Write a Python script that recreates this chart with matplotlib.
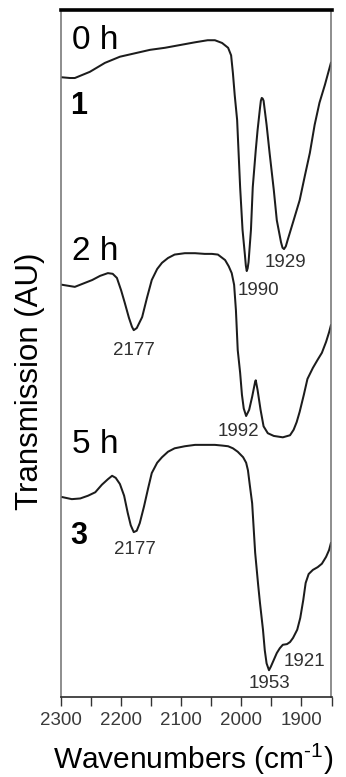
import matplotlib
matplotlib.use("Agg")
import matplotlib.pyplot as plt
from matplotlib.ticker import MultipleLocator

plt.rcParams["font.family"] = ["Liberation Sans", "DejaVu Sans"]
plt.rcParams["mathtext.fontset"] = "custom"
plt.rcParams["mathtext.rm"] = "Liberation Sans"
plt.rcParams["mathtext.it"] = "Liberation Sans:italic"
plt.rcParams["mathtext.bf"] = "Liberation Sans:bold"

# IR spectra (transmission, arbitrary units) of the reaction mixture over time
wn_0h = [2298, 2285, 2277, 2252, 2227, 2202, 2177, 2152, 2127, 2102, 2077, 2056,
         2044, 2032, 2022, 2017, 2014, 2011, 2007, 2002, 1998, 1994, 1992.5, 1991,
         1989.5, 1988, 1984, 1981, 1976, 1973, 1969, 1967.5, 1966, 1964.5, 1963,
         1958, 1953, 1946, 1941, 1934, 1931.5, 1929, 1926, 1923, 1914, 1903, 1894,
         1886, 1878, 1870, 1861, 1851]
tr_0h = [90.2, 90.1, 90.1, 91.0, 92.3, 93.2, 93.7, 94.2, 94.5, 94.9, 95.3, 95.6,
         95.6, 95.2, 94.5, 93.4, 90.8, 87.6, 84.0, 74.2, 68.0, 64.3, 62.8, 62.0,
         62.4, 63.3, 68.0, 74.2, 79.6, 82.5, 85.7, 86.8, 87.2, 87.1, 86.8,
         83.3, 79.2, 73.8, 69.4, 66.2, 65.4, 65.2, 65.6, 66.5, 69.1, 72.3, 76.0,
         79.2, 83.3, 86.5, 89.1, 92.3]

wn_2h = [2298, 2277, 2248, 2235, 2222, 2214, 2207, 2200, 2194, 2187, 2182, 2179,
         2174, 2165, 2157, 2149, 2140, 2132, 2122, 2111, 2094, 2077, 2061, 2049,
         2039, 2027, 2021, 2016, 2012, 2009, 2006, 2002, 1999, 1996, 1992, 1987,
         1982, 1977, 1976, 1973, 1968, 1963, 1956, 1946, 1931, 1919, 1913, 1908,
         1903, 1896, 1890, 1881, 1873, 1866, 1859, 1854, 1851]
tr_2h = [60.0, 59.7, 60.7, 61.3, 61.7, 61.6, 61.0, 59.2, 57.4, 55.2, 53.9, 53.4,
         53.7, 55.3, 58.1, 60.7, 62.3, 63.2, 63.9, 64.4, 64.6, 64.6, 64.5, 64.5,
         64.4, 63.6, 62.7, 61.7, 60.0, 56.3, 50.5, 47.2, 44.0, 42.0, 40.9, 41.8,
         43.7, 45.9, 46.1, 44.7, 41.8, 39.4, 38.4, 38.0, 37.8, 38.1, 38.9, 40.0,
         41.5, 44.0, 46.3, 47.9, 49.1, 50.1, 51.7, 53.1, 54.1]

wn_5h = [2298, 2282, 2268, 2255, 2243, 2232, 2222, 2215, 2209, 2202, 2195, 2189,
         2184, 2179, 2174, 2169, 2162, 2155, 2149, 2140, 2132, 2122, 2111, 2094,
         2077, 2061, 2044, 2032, 2022, 2014, 2006, 1997, 1992, 1989, 1986, 1982,
         1977, 1972, 1969, 1964, 1961, 1958, 1954, 1951, 1946, 1941, 1936, 1931,
         1924, 1919, 1914, 1907, 1902, 1897, 1893, 1888, 1881, 1873, 1866, 1859,
         1854, 1851]
tr_5h = [29.1, 28.8, 28.9, 29.3, 29.8, 30.9, 31.7, 32.2, 31.9, 31.0, 29.3, 26.8,
         25.0, 24.0, 24.2, 25.3, 27.7, 30.4, 32.6, 34.1, 34.9, 35.7, 36.2, 36.5,
         36.7, 36.7, 36.7, 36.6, 36.5, 36.2, 35.7, 34.9, 34.1, 33.0, 30.9, 28.2,
         21.0, 16.3, 13.7, 9.8, 6.8, 4.9, 3.9, 4.4, 5.4, 6.4, 7.1, 7.6,
         7.7, 8.0, 8.6, 9.8, 11.5, 14.1, 16.6, 17.9, 18.5, 18.9, 19.4, 20.4,
         21.4, 22.4]

# time labels and compound numbers (x, y, text)
time_labels = [(2282, 95.5, "0 h"), (2282, 64.8, "2 h"), (2282, 36.8, "5 h")]
compound_labels = [(2285, 86.0, "1"), (2285, 23.4, "3")]

# band positions annotated next to the curves (x, y, text)
band_labels = [(1926, 63.3, "1929"), (1971, 59.2, "1990"),
               (2179, 50.5, "2177"), (2004, 38.7, "1992"),
               (2177, 21.4, "2177"), (1953, 2.0, "1953"), (1895, 5.1, "1921")]

x_ticks = [2300, 2200, 2100, 2000, 1900]

fig = plt.figure(figsize=(3.46, 7.77), dpi=100)
ax = fig.add_axes([61 / 346, 1 - 697 / 777, 270.5 / 346, 687 / 777])

line_kw = dict(color="#1c1c1c", lw=1.45, solid_joinstyle="round")
ax.plot(wn_0h, tr_0h, **line_kw)
ax.plot(wn_2h, tr_2h, **line_kw)
ax.plot(wn_5h, tr_5h, **line_kw)

ax.set_xlim(2300, 1850)
ax.set_ylim(0, 100)

for x, y, s in time_labels:
    ax.text(x, y, s, fontsize=24, ha="left", va="center", color="black")
for x, y, s in compound_labels:
    ax.text(x, y, s, fontsize=22, fontweight="bold", ha="left", va="center",
            color="black")
for x, y, s in band_labels:
    ax.text(x, y, s, fontsize=13.5, ha="center", va="center", color="#303030")

ax.set_xticks(x_ticks)
ax.set_xticklabels([str(t) for t in x_ticks])
ax.xaxis.set_minor_locator(MultipleLocator(50))
ax.tick_params(axis="x", which="both", direction="out", length=6.5, width=1.0,
               color="#333333", labelsize=13.5, labelcolor="#3a3a3a", pad=4.5)
ax.set_yticks([])

ax.spines["top"].set_linewidth(2.6)
ax.spines["top"].set_color("black")
ax.spines["bottom"].set_linewidth(1.2)
ax.spines["bottom"].set_color("#2a2a2a")
for side in ("left", "right"):
    ax.spines[side].set_linewidth(1.1)
    ax.spines[side].set_color("#6f6f6f")

fig.text(30 / 346, 1 - 381 / 777, "Transmission (AU)", rotation=90,
         fontsize=22.5, ha="center", va="center", color="black")
fig.text(193 / 346, 1 - 759 / 777, r"Wavenumbers (cm$^{\text{-}1}$)",
         fontsize=21.5, ha="center", va="center", color="black")

fig.savefig("out.png", dpi=100)
